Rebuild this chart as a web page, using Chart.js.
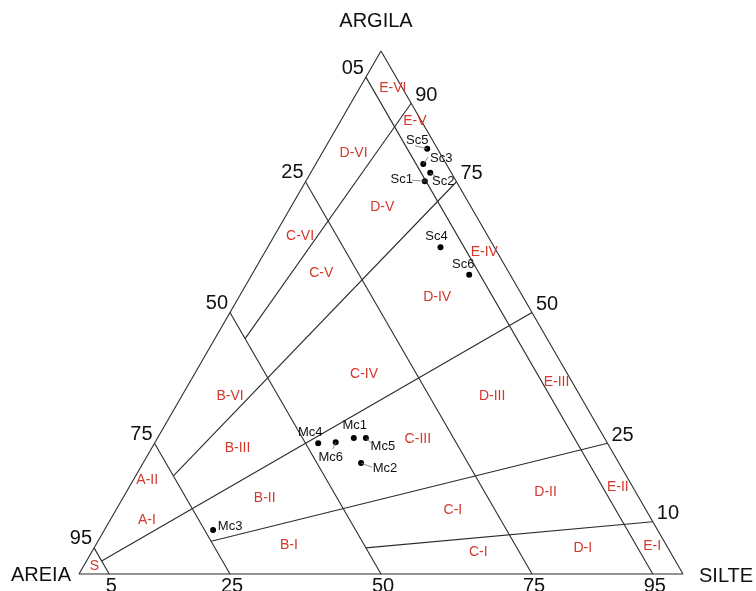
<!DOCTYPE html>
<html>
<head>
<meta charset="utf-8">
<script src="https://cdn.jsdelivr.net/npm/chart.js@4.4.0/dist/chart.umd.min.js"></script>
<style>
  html, body { margin: 0; padding: 0; background: #fff; }
  #wrap { width: 756px; height: 591px; }
</style>
</head>
<body>
<div id="wrap"><canvas id="chart" width="756" height="591"></canvas></div>
<script>
// Classification lines (percentages)
const sandLines = [95, 75, 50, 25, 5];
// clay / (clay + silt) ratio rays from the sand corner, and the sand % where each starts
const ratioLines = [10, 25, 50, 75, 90];
const ratioStartSand = [50, 75, 95, 75, 50];

// Samples: clay %, silt % (sand is the rest)
const sampleNames = ['Sc1', 'Sc2', 'Sc3', 'Sc4', 'Sc5', 'Sc6', 'Mc1', 'Mc2', 'Mc3', 'Mc4', 'Mc5', 'Mc6'];
const sampleClay = [75.1, 76.7, 78.4, 62.5, 81.3, 57.2, 26.0, 21.2, 8.4, 25.0, 26.0, 25.2];
const sampleSilt = [19.7, 19.8, 17.8, 28.6, 17.0, 36.0, 32.5, 36.1, 18.0, 27.1, 34.5, 29.9];

// Class names and where they sit (clay %, silt %)
const classNames = ['E-VI', 'E-V', 'D-VI', 'D-V', 'C-VI', 'C-V', 'E-IV', 'D-IV', 'C-IV', 'E-III', 'D-III', 'B-VI',
    'C-III', 'B-III', 'E-II', 'D-II', 'A-II', 'B-II', 'C-I', 'E-I', 'A-I', 'B-I', 'C-I', 'D-I', 'S'];
const classClay = [92.9, 86.6, 80.5, 70.2, 64.6, 57.6, 61.6, 53.0, 38.2, 36.7, 34.0, 34.0,
    25.8, 24.1, 16.6, 15.7, 18.0, 14.5, 12.2, 5.4, 10.3, 5.5, 4.2, 5.0, 1.5];
const classSilt = [5.5, 12.3, 5.2, 15.1, 4.3, 11.3, 36.3, 32.8, 28.1, 60.7, 51.4, 8.0,
    43.2, 14.2, 80.9, 69.4, 2.3, 23.5, 55.8, 92.2, 6.1, 32.0, 64.0, 80.9, 1.8];

// Tick labels on the three sides
const leftTicks = ['95', '75', '50', '25', '05'];   // sand %, along the left side
const leftTickClay = [5, 25, 50, 75, 95];
const rightTicks = ['10', '25', '50', '75', '90'];  // clay %, along the right side
const bottomTicks = ['5', '25', '50', '75', '95'];  // silt %, along the base

const H = Math.sqrt(3) / 2;
function tern(clay, silt) {
    return { x: silt + clay / 2, y: clay * H };
}

// label offsets (px) for sample names, and leader line ends
const sampleLabelOffset = [[-23, -2], [13, 9], [18, -6], [-4, -11], [-10, -8], [-6, -10],
    [1, -13], [24, 5], [17, -4], [-8, -11], [17, 8], [-5, 15]];
const sampleLeader = [[-13, -1], [8, 5], [5, -7], null, [-12, -3], null,
    null, [11, 4], null, null, [5, 5], [-3, 7]];

const lineColor = '#2b2b2b';
const redColor = '#d4372c';

function segment(a, b) {
    return {
        type: 'scatter',
        data: [a, b],
        showLine: true,
        borderColor: lineColor,
        borderWidth: 1.1,
        pointRadius: 0,
        clip: false
    };
}

const datasets = [];
// triangle outline
datasets.push(segment(tern(0, 0), tern(0, 100)));
datasets.push(segment(tern(0, 100), tern(100, 0)));
datasets.push(segment(tern(100, 0), tern(0, 0)));

sandLines.forEach(s => {
    datasets.push(segment(tern(100 - s, 0), tern(0, 100 - s)));
});

ratioLines.forEach((f, i) => {
    const rest = 100 - ratioStartSand[i];
    const start = tern(rest * f / 100, rest * (100 - f) / 100);
    const end = tern(f, 100 - f);
    datasets.push(segment(start, end));
});

datasets.push({
    type: 'scatter',
    data: sampleClay.map((c, i) => tern(c, sampleSilt[i])),
    pointRadius: 3,
    pointBackgroundColor: '#000',
    pointBorderWidth: 0,
    clip: false
});

const textPlugin = {
    id: 'ternaryText',
    afterDatasetsDraw(chart) {
        const ctx = chart.ctx;
        const sx = chart.scales.x, sy = chart.scales.y;
        const px = p => [sx.getPixelForValue(p.x), sy.getPixelForValue(p.y)];
        ctx.save();
        ctx.textAlign = 'center';
        ctx.textBaseline = 'middle';

        // class names
        ctx.fillStyle = redColor;
        ctx.font = '14px "Liberation Sans", Arial, sans-serif';
        classNames.forEach((name, i) => {
            const [x, y] = px(tern(classClay[i], classSilt[i]));
            ctx.fillText(name, x, y);
        });

        // sample names and leader lines
        ctx.font = '13px "Liberation Sans", Arial, sans-serif';
        sampleNames.forEach((name, i) => {
            const [x, y] = px(tern(sampleClay[i], sampleSilt[i]));
            const lead = sampleLeader[i];
            if (lead) {
                ctx.strokeStyle = '#777';
                ctx.lineWidth = 0.8;
                ctx.beginPath();
                ctx.moveTo(x, y);
                ctx.lineTo(x + lead[0], y + lead[1]);
                ctx.stroke();
            }
            ctx.fillStyle = '#111';
            const off = sampleLabelOffset[i];
            ctx.fillText(name, x + off[0], y + off[1]);
        });

        // tick labels
        ctx.fillStyle = '#111';
        ctx.font = '20px "Liberation Sans", Arial, sans-serif';
        leftTicks.forEach((t, i) => {
            const [x, y] = px(tern(leftTickClay[i], 0));
            ctx.textAlign = 'right';
            ctx.fillText(t, x - 2, y - 9);
        });
        rightTicks.forEach((t, i) => {
            const c = +t;
            const [x, y] = px(tern(c, 100 - c));
            ctx.textAlign = 'left';
            ctx.fillText(t, x + 4, y - 8);
        });
        ctx.textBaseline = 'top';
        bottomTicks.forEach(t => {
            const [x, y] = px(tern(0, +t));
            ctx.textAlign = 'center';
            ctx.fillText(t, x + 2, y + 2);
        });

        // corner names
        ctx.font = '20px "Liberation Sans", Arial, sans-serif';
        ctx.textBaseline = 'middle';
        const [ax, ay] = px(tern(100, 0));
        ctx.textAlign = 'center';
        ctx.fillText('ARGILA', ax - 5, ay - 30);
        const [lx, ly] = px(tern(0, 0));
        ctx.textAlign = 'right';
        ctx.fillText('AREIA', lx - 8, ly + 1);
        const [rx, ry] = px(tern(0, 100));
        ctx.textAlign = 'left';
        ctx.fillText('SILTE', rx + 16, ry + 2);
        ctx.restore();
    }
};

new Chart(document.getElementById('chart'), {
    type: 'scatter',
    data: { datasets },
    options: {
        responsive: false,
        animation: false,
        layout: { padding: { left: 79, right: 73, top: 51, bottom: 17 } },
        scales: {
            x: { type: 'linear', min: 0, max: 100, display: false },
            y: { type: 'linear', min: 0, max: 100 * H, display: false }
        },
        plugins: {
            legend: { display: false },
            tooltip: { enabled: false }
        }
    },
    plugins: [textPlugin]
});
</script>
</body>
</html>
